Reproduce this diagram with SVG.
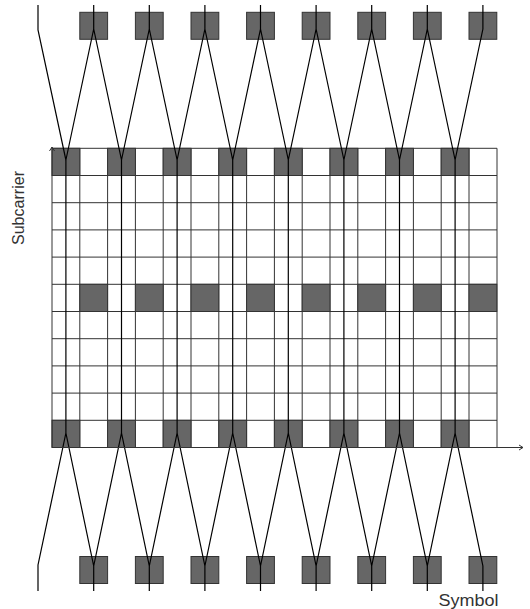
<svg xmlns="http://www.w3.org/2000/svg" width="530" height="609" viewBox="0 0 530 609">
<style>
.p{fill:#666;stroke:#333;stroke-width:1}
.g{stroke:#333;stroke-width:1;fill:none}
.z{stroke:#000;stroke-width:1.2;fill:none;stroke-linejoin:miter}
.t{font-family:"Liberation Sans",Arial,sans-serif;font-size:16px;fill:#333}
</style>
<defs>
<marker id="ah" markerWidth="8" markerHeight="8" refX="6" refY="4" orient="auto" markerUnits="userSpaceOnUse">
<path d="M2,1.5 L6,4 L2,6.5" fill="none" stroke="#333" stroke-width="1"/>
</marker>
<rect id="cell" width="27.8" height="27.2" class="p"/>
<rect id="box" width="27.8" height="27" class="p"/>
</defs>
<rect width="530" height="609" fill="#fff"/>
<g id="grid" class="g">
<path d="M52,175.5H497M52,202.7H497M52,229.9H497M52,257.1H497M52,284.3H497M52,311.5H497M52,338.7H497M52,365.9H497M52,393.1H497M52,420.3H497M52,148.3H497"/>
<path d="M79.8,148.3V447.5M107.6,148.3V447.5M135.4,148.3V447.5M163.2,148.3V447.5M191,148.3V447.5M218.8,148.3V447.5M246.6,148.3V447.5M274.4,148.3V447.5M302.2,148.3V447.5M330,148.3V447.5M357.8,148.3V447.5M385.6,148.3V447.5M413.4,148.3V447.5M441.2,148.3V447.5M469,148.3V447.5M497,148.3V447.5"/>
</g>
<g id="pilots-top-row">
<use href="#cell" x="52" y="148.3"/><use href="#cell" x="107.6" y="148.3"/><use href="#cell" x="163.2" y="148.3"/><use href="#cell" x="218.8" y="148.3"/><use href="#cell" x="274.4" y="148.3"/><use href="#cell" x="330" y="148.3"/><use href="#cell" x="385.6" y="148.3"/><use href="#cell" x="441.2" y="148.3"/>
</g>
<g id="pilots-middle-row">
<use href="#cell" x="79.8" y="284.3"/><use href="#cell" x="135.4" y="284.3"/><use href="#cell" x="191" y="284.3"/><use href="#cell" x="246.6" y="284.3"/><use href="#cell" x="302.2" y="284.3"/><use href="#cell" x="357.8" y="284.3"/><use href="#cell" x="413.4" y="284.3"/><use href="#cell" x="469" y="284.3"/>
</g>
<g id="pilots-bottom-row">
<use href="#cell" x="52" y="420.3"/><use href="#cell" x="107.6" y="420.3"/><use href="#cell" x="163.2" y="420.3"/><use href="#cell" x="218.8" y="420.3"/><use href="#cell" x="274.4" y="420.3"/><use href="#cell" x="330" y="420.3"/><use href="#cell" x="385.6" y="420.3"/><use href="#cell" x="441.2" y="420.3"/>
</g>
<g id="boxes-top">
<use href="#box" x="79.8" y="12.3"/><use href="#box" x="135.4" y="12.3"/><use href="#box" x="191" y="12.3"/><use href="#box" x="246.6" y="12.3"/><use href="#box" x="302.2" y="12.3"/><use href="#box" x="357.8" y="12.3"/><use href="#box" x="413.4" y="12.3"/><use href="#box" x="469" y="12.3"/>
</g>
<g id="boxes-bottom">
<use href="#box" x="79.8" y="556.5"/><use href="#box" x="135.4" y="556.5"/><use href="#box" x="191" y="556.5"/><use href="#box" x="246.6" y="556.5"/><use href="#box" x="302.2" y="556.5"/><use href="#box" x="357.8" y="556.5"/><use href="#box" x="413.4" y="556.5"/><use href="#box" x="469" y="556.5"/>
</g>
<g id="connectors">
<path class="z" d="M38,5V30L65.9,160L93.7,29L121.5,160L149.3,29L177.1,160L204.9,29L232.7,160L260.5,29L288.3,160L316.1,29L343.9,160L371.7,29L399.5,160L427.3,29L455.1,160L482.9,29V5"/>
<path class="z" d="M93.7,29V5M149.3,29V5M204.9,29V5M260.5,29V5M316.1,29V5M371.7,29V5M427.3,29V5"/>
<path class="z" d="M65.9,160V433M121.5,160V433M177.1,160V433M232.7,160V433M288.3,160V433M343.9,160V433M399.5,160V433M455.1,160V433"/>
<path class="z" d="M38,591V565L65.9,433L93.7,566L121.5,433L149.3,566L177.1,433L204.9,566L232.7,433L260.5,566L288.3,433L316.1,566L343.9,433L371.7,566L399.5,433L427.3,566L455.1,433L482.9,566V591"/>
<path class="z" d="M93.7,566V591M149.3,566V591M204.9,566V591M260.5,566V591M316.1,566V591M371.7,566V591M427.3,566V591"/>
</g>
<g id="axes" class="g">
<path d="M52,447.5V147" marker-end="url(#ah)"/>
<path d="M52,447.5H523" marker-end="url(#ah)"/>
</g>
<g id="labels">
<text class="t" transform="translate(24,208) rotate(-90)" text-anchor="middle" textLength="74" lengthAdjust="spacingAndGlyphs">Subcarrier</text>
<text class="t" x="438.5" y="605.5" textLength="60" lengthAdjust="spacingAndGlyphs">Symbol</text>
</g>
</svg>
